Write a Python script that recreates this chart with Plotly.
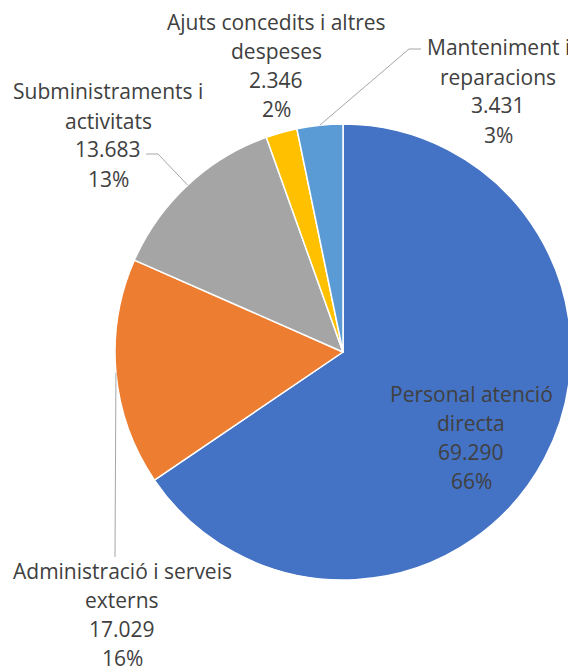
import math
import plotly.graph_objects as go

# ---- data ----
categories = [
    "Personal atenció directa",
    "Administració i serveis externs",
    "Subministraments i activitats",
    "Ajuts concedits i altres despeses",
    "Manteniment i reparacions",
]
values = [69290, 17029, 13683, 2346, 3431]
colors = ["#4472C4", "#ED7D31", "#A5A5A5", "#FFC000", "#5B9BD5"]

# label text lines (category wrapped as in the reference)
label_lines = [
    ["Personal atenció", "directa"],
    ["Administració i serveis", "externs"],
    ["Subministraments i", "activitats"],
    ["Ajuts concedits i altres", "despeses"],
    ["Manteniment i", "reparacions"],
]

# ---- layout (screen pixels) ----
W, H = 576, 672
OFF = 8  # default body margin of the page
CX, CY, R = 343, 352, 228
# label block centre x and first-line centre y
label_pos = [(471, 394), (122, 571), (108, 91.5), (276, 22), (498, 47.5)]
LINE_STEP = 29
# leader line: elbow point and horizontal stub end (None = no leader)
leaders = [None, ((115, 557), None), ((158, 154), (146, 154)), None, ((409, 49), (421, 49))]

TEXT_COLOR = "#404040"
FONT = "Open Sans"
FSIZE = 21


def px(x):
    return (x - OFF) / W


def py(y):
    return 1 - (y - OFF) / H


total = sum(values)

fig = go.Figure(
    go.Pie(
        labels=categories,
        values=values,
        sort=False,
        direction="clockwise",
        rotation=0,
        marker=dict(colors=colors, line=dict(color="white", width=1.5)),
        textinfo="none",
        hoverinfo="label+value+percent",
        showlegend=False,
        domain=dict(x=[px(CX - R), px(CX + R)], y=[py(CY + R), py(CY - R)]),
    )
)

annotations = []
shapes = []
cum = 0
for i, v in enumerate(values):
    mid = (cum + v / 2) / total * 2 * math.pi
    cum += v
    pct = round(v / total * 100)
    lines = label_lines[i] + [f"{v:,}".replace(",", "."), f"{pct}%"]
    lx, ly = label_pos[i]
    for k, t in enumerate(lines):
        annotations.append(
            dict(
                x=px(lx), y=py(ly + k * LINE_STEP), xref="paper", yref="paper",
                text=t, showarrow=False, xanchor="center", yanchor="middle",
                font=dict(family=FONT, size=FSIZE, color=TEXT_COLOR),
            )
        )
    if leaders[i] is not None:
        elbow, stub = leaders[i]
        ex = CX + R * math.sin(mid)
        ey = CY - R * math.cos(mid)
        shapes.append(dict(type="line", xref="paper", yref="paper",
                           x0=px(ex), y0=py(ey), x1=px(elbow[0]), y1=py(elbow[1]),
                           line=dict(color="#A6A6A6", width=1)))
        if stub is not None:
            shapes.append(dict(type="line", xref="paper", yref="paper",
                               x0=px(elbow[0]), y0=py(elbow[1]), x1=px(stub[0]), y1=py(stub[1]),
                               line=dict(color="#A6A6A6", width=1)))

fig.update_layout(
    width=W, height=H,
    margin=dict(l=0, r=0, t=0, b=0),
    paper_bgcolor="white", plot_bgcolor="white",
    annotations=annotations, shapes=shapes,
    font=dict(family=FONT, color=TEXT_COLOR),
)

fig.write_html("out.html", include_plotlyjs=True, config={"displayModeBar": False})
